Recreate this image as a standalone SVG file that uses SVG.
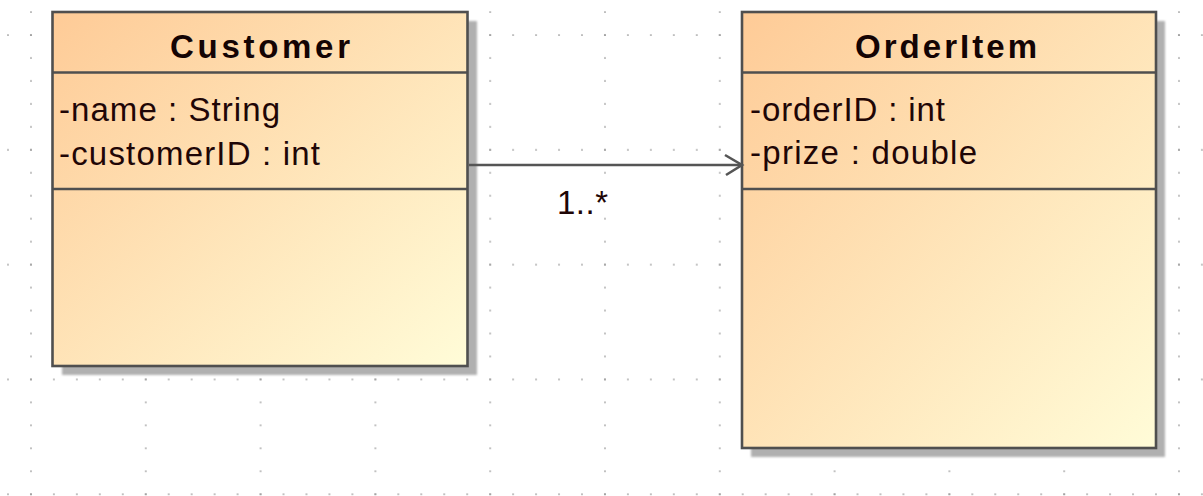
<svg xmlns="http://www.w3.org/2000/svg" width="1203" height="496" viewBox="0 0 1203 496">
<defs>
<style>
.box{stroke:#4f4f4f;stroke-width:2.6}
.sep{stroke:#4f4f4f;stroke-width:2.6;fill:none}
.shadow{fill:#b0b0b0;filter:url(#soft)}
.title{font-family:"Liberation Sans",Arial,sans-serif;font-weight:bold;font-size:33px;fill:#140404}
.attr{font-family:"Liberation Sans",Arial,sans-serif;font-size:33px;fill:#1f0606}
.conn{stroke:#555555;stroke-width:2.6;fill:none}
</style>
<linearGradient id="fillG" x1="0" y1="0" x2="1" y2="1">
<stop offset="0" stop-color="#fecb97"/>
<stop offset="1" stop-color="#fffcd8"/>
</linearGradient>
<filter id="soft" x="-5%" y="-5%" width="110%" height="110%">
<feGaussianBlur stdDeviation="1"/>
</filter>
<pattern id="gridV" patternUnits="userSpaceOnUse" x="30" y="11" width="114.8" height="22.96">
<circle cx="1" cy="1" r="0.85" fill="#8a8a8a"/>
</pattern>
<pattern id="gridH" patternUnits="userSpaceOnUse" x="7" y="34" width="22.96" height="114.8">
<circle cx="1" cy="1" r="0.85" fill="#8a8a8a"/>
</pattern>
</defs>
<rect x="0" y="0" width="1203" height="496" fill="#ffffff"/>
<rect x="0" y="0" width="1203" height="496" fill="url(#gridV)"/>
<rect x="0" y="0" width="1203" height="496" fill="url(#gridH)"/>

<g id="customer">
<rect class="shadow" x="62" y="21" width="415" height="354"/>
<rect class="box" x="52.5" y="12" width="415" height="354" fill="url(#fillG)"/>
<line class="sep" x1="52.5" y1="72.5" x2="467.5" y2="72.5"/>
<line class="sep" x1="52.5" y1="189" x2="467.5" y2="189"/>
<text class="title" x="170" y="58" textLength="180" lengthAdjust="spacing">Customer</text>
<text class="attr" x="59" y="121" textLength="221" lengthAdjust="spacing">-name : String</text>
<text class="attr" x="59" y="165" textLength="261" lengthAdjust="spacing">-customerID : int</text>
</g>

<g id="orderitem">
<rect class="shadow" x="751" y="21" width="414" height="436"/>
<rect class="box" x="742" y="12" width="414" height="436" fill="url(#fillG)"/>
<line class="sep" x1="742" y1="72.5" x2="1156" y2="72.5"/>
<line class="sep" x1="742" y1="189" x2="1156" y2="189"/>
<text class="title" x="855" y="58" textLength="182" lengthAdjust="spacing">OrderItem</text>
<text class="attr" x="750" y="121" textLength="195" lengthAdjust="spacing">-orderID : int</text>
<text class="attr" x="750" y="164" textLength="227" lengthAdjust="spacing">-prize : double</text>
</g>

<g id="connectors">
<line class="conn" x1="469" y1="165" x2="741" y2="165"/>
<polyline class="conn" points="725,155 742,165 726,175"/>
<text class="attr" x="557" y="214" textLength="51" lengthAdjust="spacing">1..*</text>
</g>
</svg>
